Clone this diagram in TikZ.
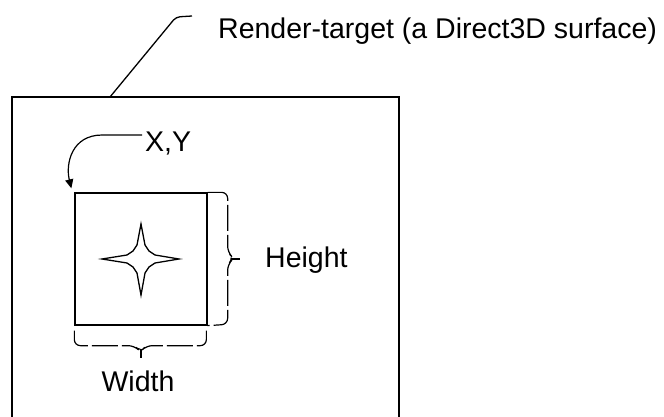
\documentclass[tikz,border=0pt]{standalone}
\usepackage{fontspec}
\setmainfont{Liberation Sans}
\usetikzlibrary{arrows.meta,calc}
\tikzset{
  lbl/.style={font=\fontsize{28.5}{34}\selectfont, inner sep=0pt},
  sq/.style={draw, rectangle, minimum size=132pt, inner sep=0pt, line width=1.3pt},
  ln/.style={line width=1.3pt},
  brc/.style={line width=1.2pt, rounded corners=6pt, dash pattern=on 26pt off 4pt},
  arr/.style={-{Triangle[length=9pt,width=8pt]}, line width=1.2pt},
}
\begin{document}
\begin{tikzpicture}[x=1pt,y=-1pt]
\useasboundingbox (0,0) rectangle (664,417);
\draw[ln] (12,417) |- (399,97) -- (399,417);
\coordinate (lead) at (110,97);
\coordinate (leadend) at (192,16);
\node[lbl, anchor=base west] (rt) at (218,39) {Render-target (a Direct3D surface)};
\draw[ln, rounded corners=4pt] (lead) -- (176,17) -- (leadend);
\node[sq] (sprite) at (141,259) {};
\begin{scope}[shift={(sprite.center)}]
\draw[line width=1.3pt, fill=white] (0,-35) -- (4,-14) -- (8,-8) -- (14,-4) -- (38,0) -- (14,4) -- (8,8) -- (4,14) -- (0,36) -- (-4,14) -- (-8,8) -- (-14,4) -- (-39,0) -- (-14,-4) -- (-8,-8) -- (-4,-14) -- cycle;
\end{scope}
\node[lbl, anchor=base west] (xy) at (145,152) {X,Y};
\draw[arr] ([shift={(-3,-9)}]xy.west) -- ++(-40,0) .. controls +(-30,0) and +(-6,-25) .. ([shift={(-3,-4)}]sprite.north west);
\draw[brc] (sprite.north east) -- ++(20,0) -- ++(0,60) -- ++(6,6) -- ++(-6,6) -- ++(0,60) -- (sprite.south east);
\draw[ln] ($(sprite.east)+(23,0)$) -- ++(9,0);
\node[lbl, anchor=base west] (height) at (265,267) {Height};
\draw[brc] ([shift={(0,5)}]sprite.south west) -- ++(0,15) -- ++(60,0) -- ++(6,6) -- ++(6,-6) -- ++(60,0) -- ++(0,-15);
\draw[ln] ($(sprite.south)+(0,23)$) -- ++(0,9);
\node[lbl, anchor=base] (width) at (138,391) {Width};
\end{tikzpicture}
\end{document}
